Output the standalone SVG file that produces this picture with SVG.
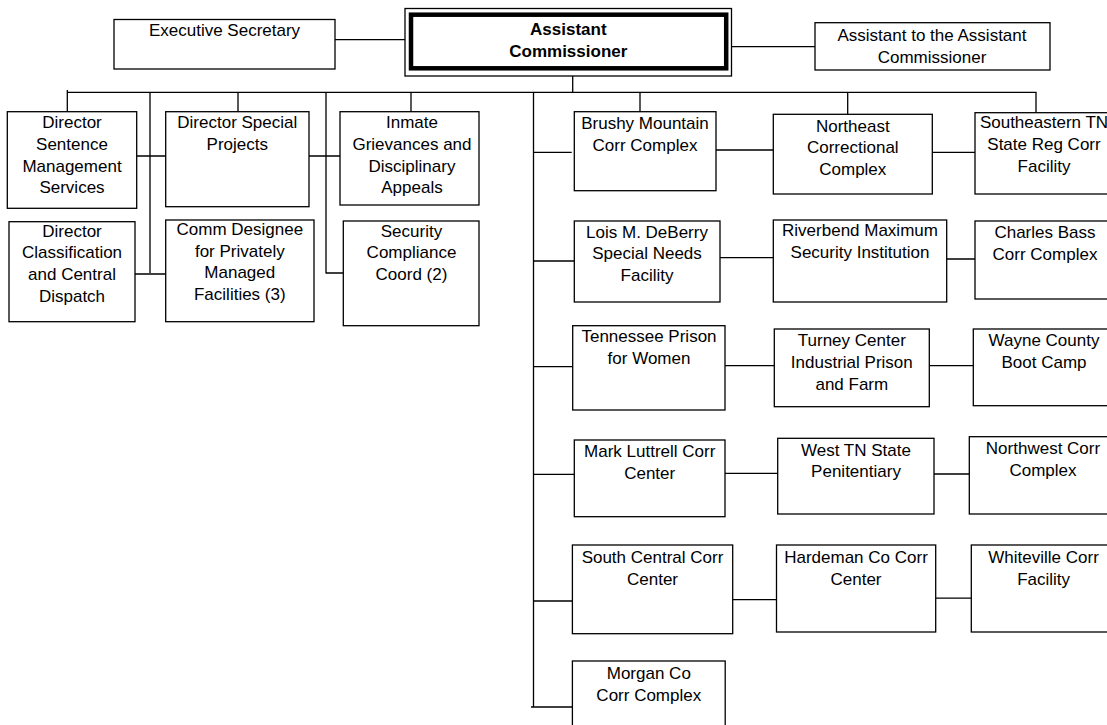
<svg xmlns="http://www.w3.org/2000/svg" width="1107" height="725" viewBox="0 0 1107 725">
<style>
.b{fill:#fff;stroke:#000;stroke-width:1.3}
.t{font-family:"Liberation Sans",Arial,sans-serif;font-size:17px;fill:#000;text-anchor:middle}
.bold{font-weight:bold}
.c{fill:none;stroke:#000;stroke-width:1.3}
</style>
<rect width="1107" height="725" fill="#fff"/>
<g id="connectors" class="c">
<path d="M335 39.7H405M731.5 46.7H815M572.7 76V92.3M67.3 92.3H1036.5"/>
<path d="M67.3 90V111.7M150 92.3V273M238 92.3V111.7M326 92.3V273.5M411 92.3V112M533.5 92.3V707M640 92.3V111.7M847.7 92.3V114.3M1036 92.3V112.7"/>
<path d="M136.7 156H165.7M309 156H340M135 274H165.7M326 273H343.3"/>
<path d="M533.5 152.3H571.7M533.5 261H574.3M533.5 366.7H572.7M533.5 474.3H574.3M533.5 601H572.4M531 707H572.4"/>
<path d="M716 150H773.3M932.3 152.3H975M720 257.7H773.3M946.7 259H975M725 365.7H774.3M929.3 365.7H973.3M725 473.3H777.7M934 474H969.3M732.7 599.7H776.5M935.7 598.2H971.3"/>
</g>
<g id="exec"><rect class="b" x="114" y="19.5" width="221" height="49.5"/><text class="t" x="224.5" y="35.7">Executive Secretary</text></g>
<g id="ac">
<rect class="b" x="405" y="8.5" width="326.5" height="67.5"/>
<rect x="411" y="14.7" width="315.2" height="53.6" fill="#fff" stroke="#000" stroke-width="4.5"/>
<text class="t bold" x="568.3" y="35">Assistant</text><text class="t bold" x="568.3" y="56.7">Commissioner</text>
</g>
<g id="asst"><rect class="b" x="815" y="22.7" width="235" height="47.3"/><text class="t" x="932" y="40.5">Assistant to the Assistant</text><text class="t" x="932" y="63">Commissioner</text></g>

<g id="sentence"><rect class="b" x="7.3" y="111.7" width="129.4" height="96.6"/><text class="t" x="72" y="128.3">Director</text><text class="t" x="72" y="150">Sentence</text><text class="t" x="72" y="171.7">Management</text><text class="t" x="72" y="193.3">Services</text></g>
<g id="special"><rect class="b" x="165.7" y="111.7" width="143.3" height="95"/><text class="t" x="237.3" y="128.3">Director Special</text><text class="t" x="237.3" y="150">Projects</text></g>
<g id="inmate"><rect class="b" x="340" y="111.7" width="139" height="93.3"/><text class="t" x="412" y="128.3">Inmate</text><text class="t" x="412" y="150">Grievances and</text><text class="t" x="412" y="171.7">Disciplinary</text><text class="t" x="412" y="193.3">Appeals</text></g>
<g id="classification"><rect class="b" x="9" y="221.7" width="126" height="100"/><text class="t" x="72" y="236.7">Director</text><text class="t" x="72" y="258.3">Classification</text><text class="t" x="72" y="280">and Central</text><text class="t" x="72" y="301.7">Dispatch</text></g>
<g id="designee"><rect class="b" x="165.7" y="220" width="148.3" height="101.7"/><text class="t" x="239.8" y="235">Comm Designee</text><text class="t" x="239.8" y="256.7">for Privately</text><text class="t" x="239.8" y="278.3">Managed</text><text class="t" x="239.8" y="300">Facilities (3)</text></g>
<g id="security"><rect class="b" x="343.3" y="221" width="135.7" height="104.7"/><text class="t" x="411.5" y="236.7">Security</text><text class="t" x="411.5" y="258.3">Compliance</text><text class="t" x="411.5" y="280">Coord (2)</text></g>

<g id="brushy"><rect class="b" x="574.3" y="111.7" width="141.7" height="79"/><text class="t" x="645" y="129.3">Brushy Mountain</text><text class="t" x="645" y="151">Corr Complex</text></g>
<g id="northeast"><rect class="b" x="773.3" y="114.3" width="159" height="79.7"/><text class="t" x="852.8" y="131.7">Northeast</text><text class="t" x="852.8" y="153.3">Correctional</text><text class="t" x="852.8" y="175">Complex</text></g>
<g id="southeastern"><rect class="b" x="975" y="112.7" width="145" height="81.3"/><text class="t" x="1044" y="128.3">Southeastern TN</text><text class="t" x="1044" y="150">State Reg Corr</text><text class="t" x="1044" y="171.7">Facility</text></g>
<g id="lois"><rect class="b" x="574.3" y="221" width="145.7" height="81"/><text class="t" x="647" y="237.7">Lois M. DeBerry</text><text class="t" x="647" y="259.3">Special Needs</text><text class="t" x="647" y="281">Facility</text></g>
<g id="riverbend"><rect class="b" x="773.3" y="220" width="173.4" height="82"/><text class="t" x="860" y="235.7">Riverbend Maximum</text><text class="t" x="860" y="257.7">Security Institution</text></g>
<g id="charles"><rect class="b" x="975" y="221" width="145" height="78"/><text class="t" x="1045" y="237.7">Charles Bass</text><text class="t" x="1045" y="260">Corr Complex</text></g>
<g id="tennessee"><rect class="b" x="572.7" y="325.7" width="152.3" height="84.3"/><text class="t" x="649" y="342.3">Tennessee Prison</text><text class="t" x="649" y="364.3">for Women</text></g>
<g id="turney"><rect class="b" x="774.3" y="329" width="155" height="77.7"/><text class="t" x="851.8" y="345.7">Turney Center</text><text class="t" x="851.8" y="367.7">Industrial Prison</text><text class="t" x="851.8" y="390">and Farm</text></g>
<g id="wayne"><rect class="b" x="973.3" y="329" width="146.7" height="76.7"/><text class="t" x="1044" y="345.7">Wayne County</text><text class="t" x="1044" y="367.7">Boot Camp</text></g>
<g id="mark"><rect class="b" x="574.3" y="440" width="150.7" height="76.7"/><text class="t" x="649.7" y="457.3">Mark Luttrell Corr</text><text class="t" x="649.7" y="479">Center</text></g>
<g id="westtn"><rect class="b" x="777.7" y="438.3" width="156.3" height="75.7"/><text class="t" x="856" y="455.7">West TN State</text><text class="t" x="856" y="476.7">Penitentiary</text></g>
<g id="northwest"><rect class="b" x="969.3" y="436.7" width="150.7" height="77.3"/><text class="t" x="1043" y="454">Northwest Corr</text><text class="t" x="1043" y="476">Complex</text></g>
<g id="southcentral"><rect class="b" x="572.4" y="545" width="160.3" height="88.7"/><text class="t" x="652.5" y="563">South Central Corr</text><text class="t" x="652.5" y="585">Center</text></g>
<g id="hardeman"><rect class="b" x="776.5" y="545" width="159.2" height="87"/><text class="t" x="856" y="563">Hardeman Co Corr</text><text class="t" x="856" y="585">Center</text></g>
<g id="whiteville"><rect class="b" x="971.3" y="545" width="148.7" height="87"/><text class="t" x="1043.6" y="563">Whiteville Corr</text><text class="t" x="1043.6" y="585">Facility</text></g>
<g id="morgan"><rect class="b" x="572.4" y="661" width="152.8" height="80"/><text class="t" x="648.8" y="679">Morgan Co</text><text class="t" x="648.8" y="701">Corr Complex</text></g>
</svg>
